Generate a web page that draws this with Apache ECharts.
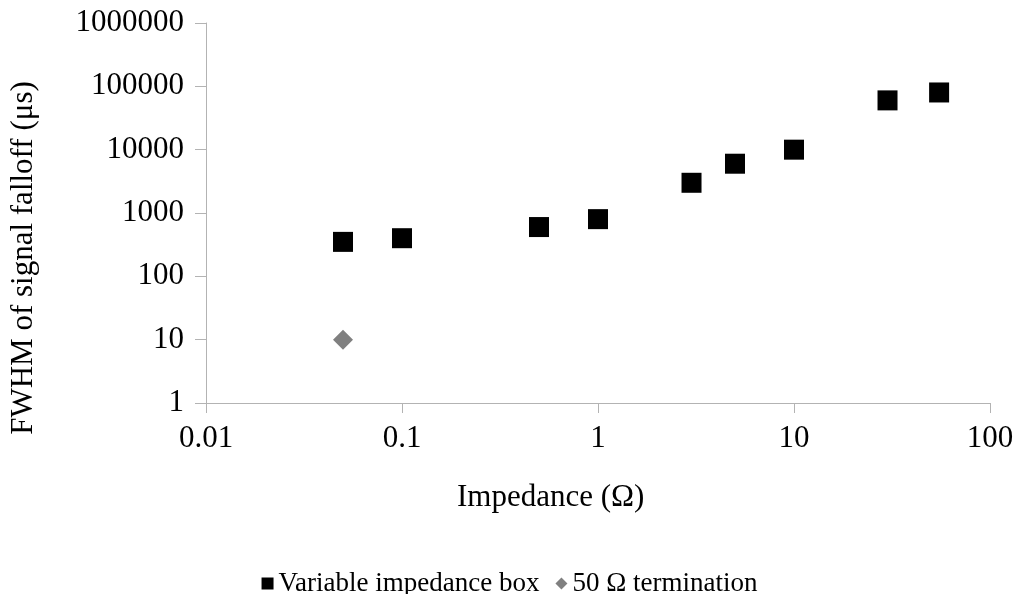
<!DOCTYPE html>
<html>
<head>
<meta charset="utf-8">
<script src="https://cdn.jsdelivr.net/npm/echarts@6/dist/echarts.min.js"></script>
<style>
  html, body { margin: 0; padding: 0; background: #fff; }
  #chart { width: 1019px; height: 594px; }
</style>
</head>
<body>
<div id="chart"></div>
<script>
// Impedance (Ω) of each setting of the variable box
const boxImpedance = [0.05, 0.1, 0.5, 1, 3, 5, 10, 30, 55];
// FWHM of signal falloff (µs) for each box setting
const boxFwhm = [350, 400, 600, 800, 3000, 6000, 10000, 60000, 80000];
// 50 Ω termination measurement
const termImpedance = [0.05];
const termFwhm = [10];

const seriesNames = ['Variable impedance box', '50 Ω termination'];
const xTitle = 'Impedance (Ω)';
const yTitle = 'FWHM of signal falloff (μs)';

const FONT = '"Liberation Serif", "Times New Roman", serif';
const AXIS_GRAY = '#b3b3b3';

const pairs = (xs, ys) => xs.map((x, i) => [x, ys[i]]);
const fmt = v => String(+Number(v).toPrecision(6));

const chart = echarts.init(document.getElementById('chart'), null, { renderer: 'canvas' });

chart.setOption({
  backgroundColor: '#ffffff',
  animation: false,
  textStyle: { fontFamily: FONT },
  grid: { left: 206, right: 29, top: 23, bottom: 191, containLabel: false },
  title: [
    {
      text: xTitle,
      left: 452, top: 477,
      textStyle: { fontFamily: FONT, fontSize: 31, fontWeight: 'normal', color: '#000' }
    }
  ],
  graphic: [
    {
      type: 'text',
      x: 24,
      y: 258,
      rotation: Math.PI / 2,
      style: {
        text: yTitle,
        fill: '#000',
        font: '31px ' + FONT,
        align: 'center',
        verticalAlign: 'middle'
      }
    }
  ],
  xAxis: {
    type: 'log',
    logBase: 10,
    min: 0.01,
    max: 100,
    axisLine: { show: true, lineStyle: { color: AXIS_GRAY, width: 1 } },
    axisTick: { show: true, length: 10, lineStyle: { color: AXIS_GRAY } },
    minorTick: { show: false },
    splitLine: { show: false },
    axisLabel: {
      formatter: fmt, fontFamily: FONT, fontSize: 31, color: '#000', margin: 20
    }
  },
  yAxis: {
    type: 'log',
    logBase: 10,
    min: 1,
    max: 1000000,
    axisLine: { show: true, lineStyle: { color: AXIS_GRAY, width: 1 } },
    axisTick: { show: true, length: 11, lineStyle: { color: AXIS_GRAY } },
    splitLine: { show: false },
    axisLabel: {
      formatter: fmt, fontFamily: FONT, fontSize: 31, color: '#000', margin: 22
    }
  },
  legend: {
    top: 565,
    left: 'center',
    itemWidth: 12,
    itemHeight: 12,
    itemGap: 16,
    textStyle: { fontFamily: FONT, fontSize: 27, color: '#000' },
    data: [
      { name: seriesNames[0], icon: 'rect' },
      { name: seriesNames[1], icon: 'diamond' }
    ]
  },
  series: [
    {
      name: seriesNames[0],
      type: 'scatter',
      symbol: 'rect',
      symbolSize: 20,
      itemStyle: { color: '#000000', opacity: 1 },
      data: pairs(boxImpedance, boxFwhm)
    },
    {
      name: seriesNames[1],
      type: 'scatter',
      symbol: 'diamond',
      symbolSize: 20,
      itemStyle: { color: '#808080', opacity: 1 },
      data: pairs(termImpedance, termFwhm)
    }
  ]
});
</script>
</body>
</html>
